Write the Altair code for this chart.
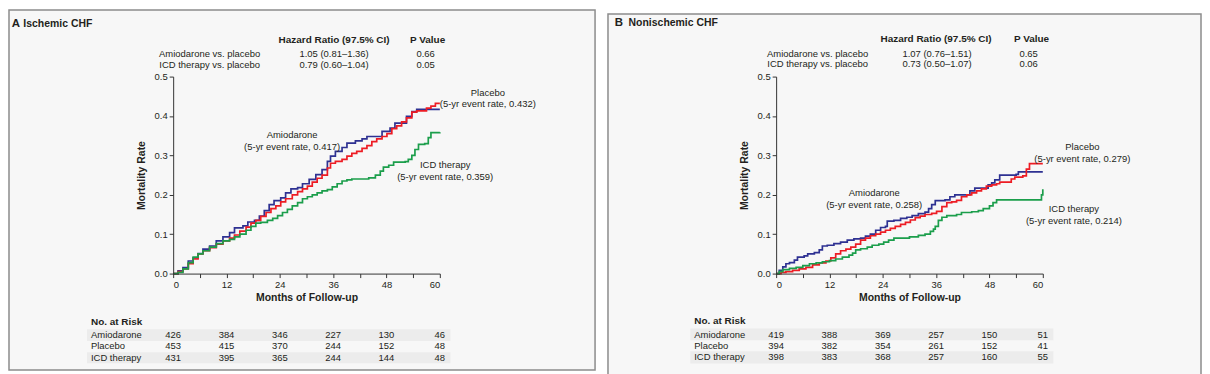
import altair as alt
import pandas as pd

FONT = "Liberation Sans"
TXT = "#231f20"
BG = "#f7f7f7"
BAND = "#ececec"
BORDER = "#8c8c8c"

GROUPS = ["Amiodarone", "Placebo", "ICD therapy"]
COLORS = ["#2e3192", "#ed1c24", "#1b9e4b"]

# ---------------- Panel A: Ischemic CHF ----------------
A_AMIO_T = [0, 1.1, 2.2, 3.4, 4.5, 5.6, 6.7, 8.2, 9.7, 11.2, 12.7, 13.8, 15.7, 16.8, 18.3, 19.4, 20.5,
            21.6, 22.7, 24.2, 25.3, 26.5, 28, 29.1, 30.6, 32.1, 33.5, 34.7, 35.4, 36.5, 38, 39.1, 41,
            42.5, 43.6, 45.8, 47, 48.8, 49.9, 51.4, 52.5, 53.7, 54.8, 60]
A_AMIO_Y = [0, 0.007, 0.015, 0.032, 0.040, 0.051, 0.062, 0.070, 0.083, 0.093, 0.104, 0.116, 0.121,
            0.131, 0.135, 0.146, 0.160, 0.175, 0.185, 0.192, 0.205, 0.215, 0.218, 0.228, 0.239, 0.251,
            0.264, 0.285, 0.298, 0.310, 0.320, 0.331, 0.337, 0.342, 0.348, 0.348, 0.361, 0.369, 0.382,
            0.382, 0.399, 0.411, 0.417, 0.417]
A_PLAC_T = [0, 1.1, 2.2, 3.4, 4.5, 5.6, 6.7, 8.2, 9.7, 11.2, 12.7, 13.8, 15, 16.4, 17.5, 18.6, 19.7,
            20.9, 22, 23.1, 24.2, 25.3, 26.8, 28, 29.1, 30.2, 31.3, 32.4, 33.5, 34.7, 35.4, 36.5, 38,
            39.1, 40.2, 41.3, 42.5, 43.6, 44.7, 45.8, 47, 48.1, 49.2, 50.3, 51.4, 52.5, 53.7, 54.8,
            56.3, 57, 58, 59, 60]
A_PLAC_Y = [0, 0.005, 0.012, 0.025, 0.037, 0.050, 0.058, 0.066, 0.075, 0.083, 0.090, 0.098, 0.108,
            0.118, 0.128, 0.135, 0.145, 0.155, 0.165, 0.172, 0.182, 0.190, 0.200, 0.208, 0.215, 0.222,
            0.232, 0.242, 0.250, 0.268, 0.280, 0.285, 0.290, 0.298, 0.305, 0.310, 0.318, 0.325, 0.335,
            0.342, 0.348, 0.355, 0.368, 0.375, 0.385, 0.395, 0.410, 0.413, 0.413, 0.420, 0.425, 0.432,
            0.432]
A_ICD_T = [0, 1.1, 2.2, 3.4, 4.5, 5.6, 6.7, 8.2, 9.7, 11.2, 12.7, 13.8, 15, 16.4, 17.5, 18.6, 19.7,
           21.2, 22.4, 23.5, 24.6, 25.7, 26.8, 28, 29.1, 30.2, 31.3, 32.4, 33.5, 34.7, 35.8, 36.9, 38,
           39.1, 40.2, 42.5, 44, 45.5, 46.6, 47.3, 48.5, 49.6, 52.2, 52.9, 53.7, 54.4, 55.2, 56.6,
           57.4, 58, 60]
A_ICD_Y = [0, 0.003, 0.012, 0.028, 0.042, 0.050, 0.058, 0.067, 0.076, 0.083, 0.087, 0.093, 0.100,
           0.110, 0.120, 0.128, 0.130, 0.135, 0.140, 0.147, 0.155, 0.163, 0.172, 0.180, 0.190, 0.195,
           0.200, 0.205, 0.210, 0.213, 0.220, 0.228, 0.235, 0.238, 0.240, 0.240, 0.243, 0.250, 0.260,
           0.270, 0.275, 0.283, 0.284, 0.290, 0.300, 0.315, 0.328, 0.330, 0.345, 0.358, 0.359]

A_HR_ROWS = ["Amiodarone vs. placebo", "ICD therapy vs. placebo"]
A_HR_VALS = ["1.05 (0.81\u20131.36)", "0.79 (0.60\u20131.04)"]
A_P_VALS = ["0.66", "0.05"]
A_LABELS = ["Amiodarone\n(5-yr event rate, 0.417)", "Placebo\n(5-yr event rate, 0.432)",
            "ICD therapy\n(5-yr event rate, 0.359)"]

RISK_MONTHS = [0, 12, 24, 36, 48, 60]
A_RISK_AMIO = [426, 384, 346, 227, 130, 46]
A_RISK_PLAC = [453, 415, 370, 244, 152, 48]
A_RISK_ICD = [431, 395, 365, 244, 144, 48]

# ---------------- Panel B: Nonischemic CHF ----------------
B_AMIO_T = [0, 0.7, 1.5, 2.2, 3, 4.1, 4.8, 6.3, 7.1, 8.6, 9.7, 10.4, 11.5, 13, 14.5, 16, 17.5, 19,
            20.1, 21.2, 22.4, 23.5, 24.6, 25, 26.5, 28, 29.4, 30.6, 32, 33.5, 34.3, 35, 35.8, 38,
            39.1, 40.2, 42.5, 43.6, 44.7, 47, 47.7, 48.5, 49.2, 50.3, 54, 54.5, 60]
B_AMIO_Y = [0, 0.008, 0.017, 0.025, 0.028, 0.034, 0.042, 0.045, 0.050, 0.053, 0.060, 0.070, 0.072,
            0.076, 0.080, 0.085, 0.088, 0.090, 0.095, 0.100, 0.110, 0.117, 0.120, 0.133, 0.135, 0.140,
            0.143, 0.147, 0.152, 0.156, 0.165, 0.175, 0.185, 0.187, 0.195, 0.200, 0.200, 0.210, 0.217,
            0.217, 0.225, 0.230, 0.238, 0.250, 0.252, 0.258, 0.258]
B_PLAC_T = [0, 1.1, 2.2, 3.7, 5.2, 6.7, 8.2, 9.7, 11.2, 12.3, 13.4, 14.5, 15.7, 16.8, 17.9, 19, 20.1,
            21.2, 22.4, 23.5, 24.6, 25.7, 26.8, 28, 29.1, 30.2, 31.3, 32.4, 33.5, 35, 36.1, 37.3, 38.4,
            39.5, 40.6, 41.7, 42.9, 44, 45.1, 46.2, 47.3, 48.5, 49.6, 50.3, 52.2, 52.9, 53.7, 55.5,
            56.3, 57, 60]
B_PLAC_Y = [0, 0.003, 0.005, 0.008, 0.012, 0.016, 0.022, 0.027, 0.032, 0.040, 0.050, 0.058, 0.062,
            0.067, 0.075, 0.085, 0.090, 0.096, 0.100, 0.105, 0.110, 0.115, 0.120, 0.125, 0.130, 0.136,
            0.142, 0.146, 0.150, 0.153, 0.158, 0.170, 0.180, 0.182, 0.186, 0.195, 0.200, 0.205, 0.210,
            0.215, 0.222, 0.225, 0.228, 0.232, 0.232, 0.240, 0.245, 0.248, 0.265, 0.279, 0.279]
B_ICD_T = [0, 0.7, 1.5, 3, 4.5, 6, 7.5, 9, 10.4, 12, 13.4, 14.9, 16.4, 17.2, 17.9, 19, 20.5, 21.6,
           23.1, 24.2, 25.3, 26.5, 28.3, 30, 32, 33.5, 34.7, 35.4, 35.8, 36.5, 37.3, 38.4, 40.6, 41.7,
           44, 45.5, 46.6, 48, 48.8, 49.6, 59.3, 59.7, 60]
B_ICD_Y = [0, 0.005, 0.010, 0.013, 0.016, 0.020, 0.025, 0.027, 0.030, 0.033, 0.037, 0.042, 0.047,
           0.052, 0.060, 0.063, 0.067, 0.072, 0.075, 0.080, 0.085, 0.090, 0.090, 0.093, 0.097, 0.100,
           0.107, 0.113, 0.120, 0.135, 0.143, 0.147, 0.150, 0.155, 0.157, 0.160, 0.165, 0.172, 0.180,
           0.187, 0.187, 0.200, 0.214]

B_HR_ROWS = ["Amiodarone vs. placebo", "ICD therapy vs. placebo"]
B_HR_VALS = ["1.07 (0.76\u20131.51)", "0.73 (0.50\u20131.07)"]
B_P_VALS = ["0.65", "0.06"]
B_LABELS = ["Amiodarone\n(5-yr event rate, 0.258)", "Placebo\n(5-yr event rate, 0.279)",
            "ICD therapy\n(5-yr event rate, 0.214)"]

B_RISK_AMIO = [419, 388, 369, 257, 150, 51]
B_RISK_PLAC = [394, 382, 354, 261, 152, 41]
B_RISK_ICD = [398, 383, 368, 257, 160, 55]

# ---------------- layout (pixels relative to plot area) ----------------
W, H = 268, 198
LAYOUT_A = dict(letter="A", title="Ischemic CHF", box=(-165, -67, 424, 295),
                letter_x=-162.3, title_x=-150.6, title_y=-53.3,
                hdr_y=-37, rows_y=[-23, -12], lbl_x=36.7, hr_head_x=161.7, hr_x=161.7,
                p_head_x=255.7, p_x=253.7,
                label_pos=[(26.76, 0.3508), (70.8, 0.4595), (61.2, 0.2757)],
                risk_x=-82.6, risk_title_y=246.7, risk_rows_y=[260, 271, 282.7],
                band_x=(-86.6, 278.7), bands_y=[(254, 265.7), (277, 288)])
LAYOUT_B = dict(letter="B", title="Nonischemic CHF", box=(-169, -63, 427, 300),
                letter_x=-162.3, title_x=-148.3, title_y=-53.4,
                hdr_y=-37.4, rows_y=[-23, -13], lbl_x=41.7, hr_head_x=160.7, hr_x=161.7,
                p_head_x=256.7, p_x=253.7,
                label_pos=[(22.06, 0.2037), (68.9, 0.3213), (67.0, 0.164)],
                risk_x=-82.3, risk_title_y=245.3, risk_rows_y=[259.3, 271, 282],
                band_x=(-86.3, 278.7), bands_y=[(253.3, 265), (276, 288.3)])

ONE = pd.DataFrame({"k": [0]})

X_SCALE = alt.Scale(domain=[0, 60], nice=False, zero=False)
Y_SCALE = alt.Scale(domain=[0, 0.5], nice=False)
X_AXIS = alt.Axis(values=list(range(0, 61, 6)),
                  labelExpr="datum.value % 12 == 0 ? datum.label : ''",
                  title="Months of Follow-up", titlePadding=4, zindex=2)
Y_AXIS = alt.Axis(values=[0, 0.1, 0.2, 0.3, 0.4, 0.5], format=".1f",
                  title="Mortality Rate", titlePadding=8, zindex=2)


def text_at(s, x, y, size=9.5, weight="normal", align="left"):
    return alt.Chart(pd.DataFrame({"t": [s]})).mark_text(
        font=FONT, fontSize=size, fontWeight=weight, align=align, baseline="middle", color=TXT
    ).encode(x=alt.value(x), y=alt.value(y), text="t:N")


def panel(L, curves, hr_rows, hr_vals, p_vals, labels, risks):
    layers = []
    bx, by, bx2, by2 = L["box"]
    layers.append(alt.Chart(ONE).mark_rect(fill=BG, stroke=BORDER, strokeWidth=1.5).encode(
        x=alt.value(bx), x2=alt.value(bx2), y=alt.value(by), y2=alt.value(by2)))
    for (y0, y1) in L["bands_y"]:
        layers.append(alt.Chart(ONE).mark_rect(fill=BAND).encode(
            x=alt.value(L["band_x"][0]), x2=alt.value(L["band_x"][1]),
            y=alt.value(y0), y2=alt.value(y1)))
    layers.append(text_at(L["letter"], L["letter_x"], L["title_y"], size=11.5, weight="bold"))
    layers.append(text_at(L["title"], L["title_x"], L["title_y"], size=10.5, weight="bold"))
    layers.append(text_at("Hazard Ratio (97.5% CI)", L["hr_head_x"], L["hdr_y"], size=10,
                          weight="bold", align="center"))
    layers.append(text_at("P Value", L["p_head_x"], L["hdr_y"], size=10, weight="bold",
                          align="center"))
    for i in range(2):
        yy = L["rows_y"][i]
        layers.append(text_at(hr_rows[i], L["lbl_x"], yy, align="center"))
        layers.append(text_at(hr_vals[i], L["hr_x"], yy, align="center"))
        layers.append(text_at(p_vals[i], L["p_x"], yy, align="center"))

    rows = []
    for g, (ts, ys) in zip(GROUPS, curves):
        for t, y in zip(ts, ys):
            rows.append({"month": t, "rate": y, "group": g})
    df = pd.DataFrame(rows)
    line = alt.Chart(df).mark_line(interpolate="step-after", strokeWidth=1.7).encode(
        x=alt.X("month:Q", scale=X_SCALE, axis=X_AXIS),
        y=alt.Y("rate:Q", scale=Y_SCALE, axis=Y_AXIS),
        color=alt.Color("group:N", scale=alt.Scale(domain=GROUPS, range=COLORS), legend=None),
    )
    layers.append(line)

    ldf = pd.DataFrame({"month": [p[0] for p in L["label_pos"]],
                        "rate": [p[1] for p in L["label_pos"]],
                        "label": labels})
    layers.append(alt.Chart(ldf).mark_text(
        font=FONT, fontSize=9.5, color=TXT, align="center", baseline="middle",
        lineBreak="\n", lineHeight=12).encode(
        x=alt.X("month:Q", scale=X_SCALE, axis=X_AXIS),
        y=alt.Y("rate:Q", scale=Y_SCALE, axis=Y_AXIS),
        text="label:N"))

    layers.append(text_at("No. at Risk", L["risk_x"], L["risk_title_y"], size=10, weight="bold"))
    for g, vals, yy in zip(GROUPS, risks, L["risk_rows_y"]):
        layers.append(text_at(g, L["risk_x"], yy))
        rdf = pd.DataFrame({"month": RISK_MONTHS, "n": vals})
        layers.append(alt.Chart(rdf).mark_text(
            font=FONT, fontSize=9.5, color=TXT, align="center", baseline="middle").encode(
            x=alt.X("month:Q", scale=X_SCALE, axis=X_AXIS), y=alt.value(yy), text="n:Q"))

    return alt.layer(*layers).properties(width=W, height=H)


pa = panel(LAYOUT_A, [(A_AMIO_T, A_AMIO_Y), (A_PLAC_T, A_PLAC_Y), (A_ICD_T, A_ICD_Y)],
           A_HR_ROWS, A_HR_VALS, A_P_VALS, A_LABELS, [A_RISK_AMIO, A_RISK_PLAC, A_RISK_ICD])
pb = panel(LAYOUT_B, [(B_AMIO_T, B_AMIO_Y), (B_PLAC_T, B_PLAC_Y), (B_ICD_T, B_ICD_Y)],
           B_HR_ROWS, B_HR_VALS, B_P_VALS, B_LABELS, [B_RISK_AMIO, B_RISK_PLAC, B_RISK_ICD])

chart = alt.hconcat(pa, pb, spacing=11).properties(padding=0).configure_view(
    stroke=None).configure_axis(
    labelFont=FONT, titleFont=FONT, labelFontSize=9.5, titleFontSize=10.5,
    titleFontWeight="bold", labelColor=TXT, titleColor=TXT, domainColor="#333333",
    tickColor="#333333", tickSize=4, labelPadding=2, grid=False, domainWidth=1, tickWidth=1)

chart.save("out.html", embed_options={"renderer": "svg", "actions": False})
